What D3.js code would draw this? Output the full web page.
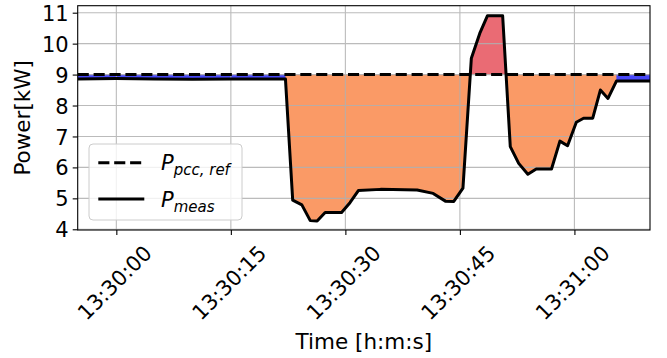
<!DOCTYPE html>
<html>
<head>
<meta charset="utf-8">
<script src="https://cdn.jsdelivr.net/npm/d3@7"></script>
<style>
  body { margin: 0; background: #fff; }
  svg { font-family: "DejaVu Sans", sans-serif; }
</style>
</head>
<body>
<div id="chart"></div>
<script>
// seconds after 13:30:00 and measured power [kW]
var measTimes = [-5.06, 0, 5, 10, 15, 20, 22.15, 23.1, 24.3, 25.4, 26.3, 27.35, 29.5, 30.6, 31.7, 34.6, 39.4, 41.5, 43.1, 44.2, 45.4,
                 46.5, 47.6, 48.6, 50.6, 51.6, 52.7, 53.9, 55.0, 57.0, 58.1, 59.1, 60.25, 61.2, 62.4, 63.4, 64.4, 65.5, 69.9];
var measValues = [8.86, 8.87, 8.86, 8.85, 8.86, 8.86, 8.86, 4.94, 4.79, 4.28, 4.27, 4.54, 4.54, 4.86, 5.25, 5.29, 5.27, 5.16, 4.91, 4.9, 5.33,
                  9.53, 10.33, 10.9, 10.9, 6.67, 6.13, 5.78, 5.95, 5.95, 6.85, 6.70, 7.46, 7.59, 7.59, 8.5, 8.23, 8.79, 8.79];
var refTimes = [-5.06, 69.9];
var refValues = [9, 9];
var yTicks = [4, 5, 6, 7, 8, 9, 10, 11];
var xTickSeconds = [0, 15, 30, 45, 60];
var legendLabels = ["ref", "meas"];

var width = 667, height = 358;
var margin = {left: 77.7, right: 650, top: 5.7, bottom: 230};
var t0 = new Date(2024, 0, 1, 13, 30, 0);
var toDate = function (s) { return new Date(t0.getTime() + s * 1000); };

var meas = measTimes.map(function (t, i) { return {t: toDate(t), v: measValues[i]}; });
var ref = refTimes.map(function (t, i) { return {t: toDate(t), v: refValues[i]}; });
var refLevel = refValues[0];

var x = d3.scaleTime().domain(d3.extent(meas, function (d) { return d.t; })).range([margin.left, margin.right]);
var y = d3.scaleLinear().domain([3.977, 11.226]).range([margin.bottom, margin.top]);

var pw = margin.right - margin.left, ph = margin.bottom - margin.top;
var svg = d3.select("#chart").append("svg").attr("width", width).attr("height", height);
var defs = svg.append("defs");
defs.append("clipPath").attr("id", "plot").append("rect")
    .attr("x", margin.left).attr("y", margin.top).attr("width", pw).attr("height", ph);
defs.append("clipPath").attr("id", "below").append("rect")
    .attr("x", margin.left).attr("y", y(refLevel)).attr("width", pw).attr("height", margin.bottom - y(refLevel));
defs.append("clipPath").attr("id", "above").append("rect")
    .attr("x", margin.left).attr("y", margin.top).attr("width", pw).attr("height", y(refLevel) - margin.top);

var area = d3.area()
    .x(function (d) { return x(d.t); })
    .y0(y(refLevel))
    .y1(function (d) { return y(d.v); });

// under / over reference
svg.append("path").attr("d", area(meas)).attr("fill", "#fa9a66").attr("clip-path", "url(#below)");
svg.append("path").attr("d", area(meas)).attr("fill", "#ea6b74").attr("clip-path", "url(#above)");
// within tolerance
svg.append("path")
    .attr("d", area.defined(function (d) { return Math.abs(d.v - refLevel) < 0.3; })(meas))
    .attr("fill", "#4848f8").attr("clip-path", "url(#plot)");

// grid
var grid = svg.append("g").attr("stroke", "#b0b0b0").attr("stroke-width", 1.1).attr("opacity", 0.85);
grid.selectAll("line.gx").data(xTickSeconds).enter().append("line")
    .attr("x1", function (d) { return x(toDate(d)); }).attr("x2", function (d) { return x(toDate(d)); })
    .attr("y1", margin.top).attr("y2", margin.bottom);
grid.selectAll("line.gy").data(yTicks).enter().append("line")
    .attr("x1", margin.left).attr("x2", margin.right)
    .attr("y1", function (d) { return y(d); }).attr("y2", function (d) { return y(d); });

var line = d3.line().x(function (d) { return x(d.t); }).y(function (d) { return y(d.v); });

svg.append("path").attr("d", line(meas)).attr("fill", "none").attr("stroke", "black")
    .attr("stroke-width", 3).attr("stroke-linejoin", "round").attr("clip-path", "url(#plot)");
svg.append("path").attr("d", line(ref)).attr("fill", "none").attr("stroke", "black")
    .attr("stroke-width", 3).attr("stroke-dasharray", "11.1,4.8").attr("clip-path", "url(#plot)");

// axes
var xAxis = d3.axisBottom(x).tickValues(xTickSeconds.map(toDate))
    .tickFormat(d3.timeFormat("%H:%M:%S")).tickSize(5).tickSizeOuter(0);
var yAxis = d3.axisLeft(y).tickValues(yTicks).tickSize(5).tickSizeOuter(0);

var gx = svg.append("g").attr("transform", "translate(0," + margin.bottom + ")").call(xAxis);
var gy = svg.append("g").attr("transform", "translate(" + margin.left + ",0)").call(yAxis);
gx.select(".domain").remove();
gy.select(".domain").remove();
svg.selectAll(".tick line").attr("stroke", "black").attr("stroke-width", 1.1);

gy.selectAll("text").attr("x", -9).attr("dy", "0.36em").style("font-size", "21px")
    .style("font-family", "DejaVu Sans").attr("fill", "black");
gx.selectAll("text")
    .attr("y", 0).attr("dy", 0)
    .attr("text-anchor", "middle")
    .attr("transform", "translate(-2,53) rotate(-45)")
    .attr("dominant-baseline", "central")
    .style("font-size", "21px").style("font-family", "DejaVu Sans").attr("fill", "black");

svg.append("rect").attr("x", margin.left).attr("y", margin.top).attr("width", pw).attr("height", ph)
    .attr("fill", "none").attr("stroke", "black").attr("stroke-width", 1.1);

svg.append("text").attr("x", (margin.left + margin.right) / 2).attr("y", 349)
    .attr("text-anchor", "middle").style("font-size", "21.5px").text("Time [h:m:s]");
svg.append("text").attr("transform", "translate(30," + (margin.top + margin.bottom) / 2 + ") rotate(-90)")
    .attr("text-anchor", "middle").style("font-size", "21.5px").text("Power[kW]");

// legend
var lg = svg.append("g");
lg.append("rect").attr("x", 89).attr("y", 144).attr("width", 153).attr("height", 76).attr("rx", 4)
    .attr("fill", "white").attr("fill-opacity", 0.8).attr("stroke", "#cccccc").attr("stroke-width", 1);
lg.append("line").attr("x1", 98.3).attr("x2", 144.3).attr("y1", 162.7).attr("y2", 162.7)
    .attr("stroke", "black").attr("stroke-width", 3).attr("stroke-dasharray", "11.1,4.8");
lg.append("line").attr("x1", 98.3).attr("x2", 144.3).attr("y1", 199).attr("y2", 199)
    .attr("stroke", "black").attr("stroke-width", 3);

var t1 = lg.append("text").attr("x", 161).attr("y", 170).style("font-style", "italic").style("font-size", "21px");
t1.append("tspan").text("P");
t1.append("tspan").attr("dy", 5).style("font-size", "15px").text("pcc, " + legendLabels[0]);
var t2 = lg.append("text").attr("x", 161).attr("y", 207).style("font-style", "italic").style("font-size", "21px");
t2.append("tspan").text("P");
t2.append("tspan").attr("dy", 5).style("font-size", "15px").text(legendLabels[1]);
</script>
</body>
</html>
